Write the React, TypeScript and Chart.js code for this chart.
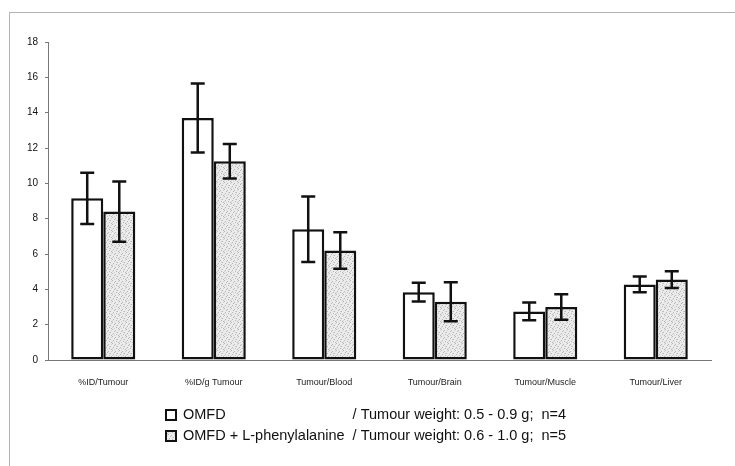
import React, { useEffect, useRef } from "react";
import { Chart, registerables } from "chart.js";

Chart.register(...registerables);

const categories = [
  "%ID/Tumour",
  "%ID/g Tumour",
  "Tumour/Blood",
  "Tumour/Brain",
  "Tumour/Muscle",
  "Tumour/Liver",
];

const omfdMean = [9.15, 13.7, 7.4, 3.84, 2.75, 4.28];
const omfdSd = [1.45, 1.95, 1.85, 0.53, 0.5, 0.44];

const pheMean = [8.4, 11.25, 6.2, 3.3, 3.0, 4.55];
const pheSd = [1.7, 0.97, 1.03, 1.1, 0.72, 0.47];

const seriesLabels = ["OMFD", "OMFD + L-phenylalanine"];
const seriesNotes = [
  "/ Tumour weight: 0.5 - 0.9 g;  n=4",
  "/ Tumour weight: 0.6 - 1.0 g;  n=5",
];

const yTicks = { min: 0, max: 18, step: 2 };

const FONT = "'Liberation Sans', Arial, sans-serif";

// Light stippled fill for the second series
function makeStipple(): CanvasPattern | string {
  const tile = document.createElement("canvas");
  tile.width = 7;
  tile.height = 7;
  const t = tile.getContext("2d");
  if (!t) return "#e2e2e2";
  t.fillStyle = "#ececec";
  t.fillRect(0, 0, 7, 7);
  t.fillStyle = "#b4b4b4";
  const dots = [
    [0, 0], [3, 1], [5, 3], [1, 4], [4, 5], [6, 6], [2, 2],
  ];
  dots.forEach(([x, y]) => t.fillRect(x, y, 1, 1));
  t.fillStyle = "#d0d0d0";
  [[6, 1], [2, 6], [4, 3], [0, 5]].forEach(([x, y]) => t.fillRect(x, y, 1, 1));
  const p = t.createPattern(tile, "repeat");
  return p || "#e2e2e2";
}

const errorBars = {
  id: "errorBars",
  afterDatasetsDraw(chart: any) {
    const { ctx } = chart;
    const y = chart.scales.y;
    ctx.save();
    ctx.strokeStyle = "#111";
    ctx.lineWidth = 2.5;
    chart.data.datasets.forEach((ds: any, i: number) => {
      const meta = chart.getDatasetMeta(i);
      meta.data.forEach((bar: any, j: number) => {
        const v = ds.data[j];
        const e = ds.errors[j];
        const x = bar.x;
        const top = y.getPixelForValue(v + e);
        const bot = y.getPixelForValue(v - e);
        const cap = 7;
        ctx.beginPath();
        ctx.moveTo(x, top);
        ctx.lineTo(x, bot);
        ctx.moveTo(x - cap, top);
        ctx.lineTo(x + cap, top);
        ctx.moveTo(x - cap, bot);
        ctx.lineTo(x + cap, bot);
        ctx.stroke();
      });
    });
    ctx.restore();
  },
};

const frameAndLegend = {
  id: "frameAndLegend",
  beforeDraw(chart: any) {
    const { ctx } = chart;
    ctx.save();
    ctx.fillStyle = "#fff";
    ctx.fillRect(0, 0, chart.width, chart.height);
    ctx.strokeStyle = "#666";
    ctx.lineWidth = 1;
    ctx.setLineDash([1, 1]);
    ctx.strokeRect(9.5, 12.5, chart.width + 20, chart.height + 20);
    ctx.restore();
  },
  afterDraw(chart: any) {
    const { ctx, chartArea } = chart;
    const x0 = chartArea.left + 117;
    const y0 = chartArea.bottom + 55;
    const lineGap = 21;
    ctx.save();
    ctx.font = `14.5px ${FONT}`;
    ctx.textBaseline = "middle";
    ctx.fillStyle = "#111";
    const widths = seriesLabels.map((s) => ctx.measureText(s + " ").width);
    const noteX = x0 + 18 + Math.max(...widths) + 4;
    chart.data.datasets.forEach((ds: any, i: number) => {
      const cy = y0 + i * lineGap;
      ctx.fillStyle = ds.backgroundColor;
      ctx.fillRect(x0, cy - 6, 12, 12);
      ctx.strokeStyle = "#111";
      ctx.lineWidth = 2;
      ctx.setLineDash([]);
      ctx.strokeRect(x0 + 1, cy - 5, 10, 10);
      ctx.fillStyle = "#111";
      ctx.fillText(seriesLabels[i], x0 + 18, cy);
      ctx.fillText(seriesNotes[i], noteX, cy);
    });
    ctx.restore();
  },
};

export default function App() {
  const ref = useRef<HTMLCanvasElement | null>(null);

  useEffect(() => {
    if (!ref.current) return;
    const stipple = makeStipple();
    const chart = new Chart(ref.current, {
      type: "bar",
      data: {
        labels: categories,
        datasets: [
          {
            label: seriesLabels[0],
            data: omfdMean,
            errors: omfdSd,
            backgroundColor: "#ffffff",
            borderColor: "#111",
            borderWidth: 2.5,
            borderSkipped: false,
          } as any,
          {
            label: seriesLabels[1],
            data: pheMean,
            errors: pheSd,
            backgroundColor: stipple,
            borderColor: "#111",
            borderWidth: 2.5,
            borderSkipped: false,
          } as any,
        ],
      },
      options: {
        animation: false,
        responsive: true,
        maintainAspectRatio: false,
        layout: { padding: { left: 10, top: 42, right: 24, bottom: 76 } },
        datasets: {
          bar: { categoryPercentage: 0.58, barPercentage: 1.0 },
        },
        plugins: {
          legend: { display: false },
          tooltip: { enabled: false },
        },
        scales: {
          x: {
            afterFit(scale: any) {
              scale.height = 30;
            },
            grid: { display: false },
            border: { display: true, color: "#777", dash: [1, 1], width: 1 },
            ticks: {
              font: { family: FONT, size: 9 },
              color: "#222",
              padding: 9,
              maxRotation: 0,
              autoSkip: false,
            },
          },
          y: {
            min: yTicks.min,
            max: yTicks.max,
            afterFit(scale: any) {
              scale.width = 38;
            },
            grid: {
              drawOnChartArea: false,
              drawTicks: true,
              tickLength: 3,
              color: "#777",
            },
            border: { display: true, color: "#777", dash: [1, 1], width: 1 },
            ticks: {
              stepSize: yTicks.step,
              font: { family: FONT, size: 10 },
              color: "#111",
              padding: 7,
            },
          },
        },
      },
      plugins: [frameAndLegend, errorBars],
    });
    return () => chart.destroy();
  }, []);

  return (
    <div
      style={{
        position: "absolute",
        left: 0,
        top: 0,
        width: 735,
        height: 466,
        background: "#fff",
      }}
    >
      <canvas ref={ref} />
    </div>
  );
}
